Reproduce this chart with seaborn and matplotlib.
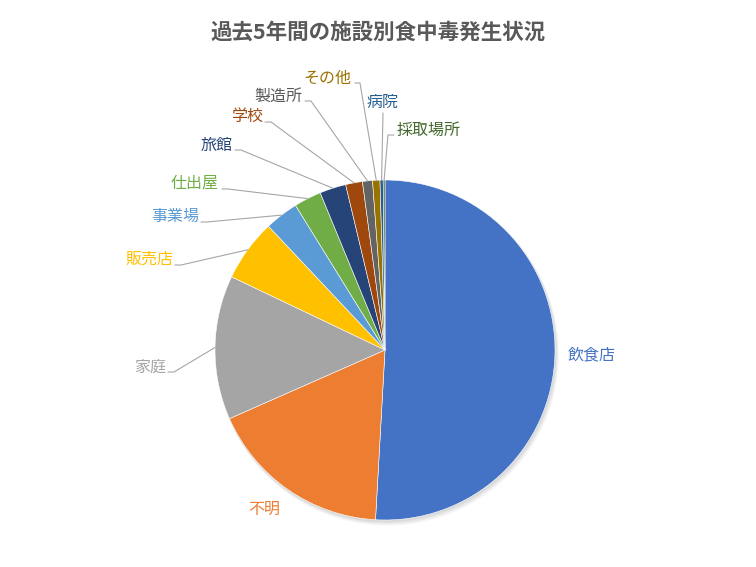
import numpy as np
import matplotlib
matplotlib.use("Agg")
import matplotlib.pyplot as plt
from matplotlib.patches import Circle
import seaborn as sns

# Data (share of outbreaks by facility, %)
facilities = ["飲食店", "不明", "家庭", "販売店", "事業場", "仕出屋",
              "旅館", "学校", "製造所", "その他", "病院", "採取場所"]
share = [50.9, 17.5, 13.7, 5.9, 3.2, 2.6, 2.5, 1.6, 0.95, 0.7, 0.3, 0.17]

TITLE = "過去5年間の施設別食中毒発生状況"

# Office-like palette
colors = ["#4472C4", "#ED7D31", "#A5A5A5", "#FFC000", "#5B9BD5", "#70AD47",
          "#264478", "#9E480E", "#636363", "#997300", "#255E91", "#43682B"]
label_colors = list(colors)
label_colors[8] = "#595959"

# Layout in pixels (pie centre / radius)
CX, CY, R = 385, 350, 170
W, H = 756, 567

# label anchor (x, y, ha) and leader points from label side
LABEL_POS = {
    "飲食店": (568, 355, "left", None),
    "不明": (248, 509, "left", None),
    "家庭": (166, 367, "right", [(168, 372), (174, 372)]),
    "販売店": (173, 259, "right", [(175, 265), (181, 265)]),
    "事業場": (199, 216, "right", [(201, 222), (207, 222)]),
    "仕出屋": (219, 183, "right", [(222, 189), (228, 189)]),
    "旅館": (233, 145, "right", [(235, 150), (241, 150)]),
    "学校": (263, 116, "right", [(265, 122), (271, 122)]),
    "製造所": (302, 96, "right", [(305, 101), (311, 101)]),
    "その他": (351, 78, "right", [(355, 83), (360, 83)]),
    "病院": (383, 102, "center", [(383, 113)]),
    "採取場所": (397, 130, "left", [(394, 135), (388, 135)]),
}


def px(x, y):
    """Convert pixel position to data coords (pie radius = 1)."""
    return (x - CX) / R, (CY - y) / R


sns.set_theme(style="white")
plt.rcParams["font.family"] = ["Noto Sans CJK JP", "DejaVu Sans"]

fig = plt.figure(figsize=(W / 100, H / 100), dpi=100)
ax = fig.add_axes([0, 0, 1, 1])

# soft shadow under the pie
for off, a in [(0.025, 0.04), (0.018, 0.05), (0.010, 0.06)]:
    ax.add_patch(Circle((off * 0.6, -off), 1.0 + off * 0.3, color="black",
                        alpha=a, lw=0, zorder=0))

wedges, _ = ax.pie(share, colors=colors, startangle=90, counterclock=False,
                   radius=1.0,
                   wedgeprops=dict(linewidth=0.4, edgecolor="white", zorder=1))

# labels and leader lines
fracs = np.array(share) / np.sum(share)
cum = np.concatenate([[0], np.cumsum(fracs)[:-1]])
for i, name in enumerate(facilities):
    tx, ty, ha, leader = LABEL_POS[name]
    mid = np.deg2rad(90 - 360 * (cum[i] + fracs[i] / 2))
    if leader is not None:
        pts = [px(*p) for p in leader] + [(np.cos(mid), np.sin(mid))]
        xs, ys = zip(*pts)
        ax.plot(xs, ys, color="#A6A6A6", lw=0.8, zorder=2)
    x, y = px(tx, ty)
    ax.text(x, y, name, ha=ha, va="center", fontsize=11.5,
            color=label_colors[i], zorder=3)

# title
tx, ty = px(378, 32)
ax.text(tx, ty, TITLE, ha="center", va="center", fontsize=15.5,
        fontweight="bold", color="#595959")

ax.set_xlim(-CX / R, (W - CX) / R)
ax.set_ylim((CY - H) / R, CY / R)
ax.set_aspect("auto")
ax.axis("off")

fig.savefig("out.png", dpi=100, facecolor="white")
plt.close(fig)
